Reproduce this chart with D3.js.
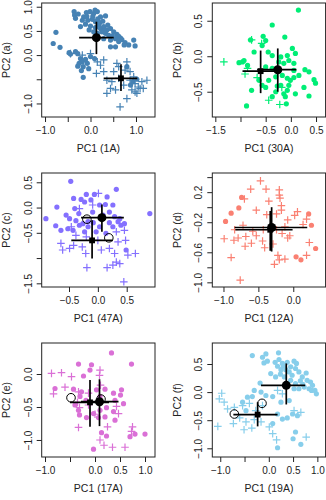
<!DOCTYPE html>
<html>
<head>
<meta charset="utf-8">
<script src="https://cdn.jsdelivr.net/npm/d3@7"></script>
<style>
  body { margin: 0; background: #fff; }
  svg { display: block; font-family: "Liberation Sans", Arial, sans-serif; }
</style>
</head>
<body>
<div id="chart"></div>
<script>
// ---- data: [PC1, PC2] per sample ----
const p1Dots = [[-0.36,0.90],[-0.35,0.83],[-0.33,0.76],[-0.09,0.88],[-0.01,0.90],[0.07,0.86],[0.15,0.90],[0.22,0.79],[0.33,0.81],[-0.15,0.79],[-0.18,0.72],[-0.06,0.72],[0.04,0.74],[0.11,0.69],[0.20,0.67],[-0.11,0.64],[-0.22,0.59],[0.00,0.60],[0.11,0.57],[0.22,0.55],[0.29,0.59],[0.36,0.52],[0.44,0.55],[0.25,0.48],[0.33,0.45],[0.40,0.41],[0.51,0.48],[0.58,0.43],[0.62,0.39],[0.55,0.34],[0.69,0.32],[0.76,0.26],[0.84,0.21],[0.74,0.21],[0.95,0.31],[0.98,0.19],[0.62,0.28],[0.44,0.31],[0.15,0.45],[0.07,0.48],[0.29,0.34],[0.44,0.17],[0.55,0.17],[-0.76,0.47],[-0.82,0.24],[-0.67,0.16],[-0.47,0.05],[-0.33,0.07],[-0.28,0.03],[-0.44,0.02],[-0.22,-0.07],[-0.18,-0.14],[-0.25,-0.17],[-0.28,-0.23],[-0.16,-0.24],[-0.20,-0.32],[-0.16,-0.46],[-0.07,-0.17],[-0.04,-0.28],[-0.11,-0.09],[0.00,-0.03],[0.09,-0.07],[0.80,-0.24],[0.93,-0.55],[1.02,-0.50],[0.88,-0.62],[0.05,0.80],[0.18,0.62],[0.27,0.70],[-0.03,0.52],[0.38,0.62],[-0.27,0.85],[0.10,0.93],[0.16,0.75],[0.30,0.50],[0.48,0.40],[-0.08,0.80],[0.66,0.35]];
const p1Crosses = [[-0.44,0.03],[-0.18,0.00],[0.00,0.03],[0.15,-0.14],[0.29,-0.10],[0.22,-0.21],[0.13,-0.38],[0.58,-0.17],[0.62,-0.24],[0.80,-0.14],[0.76,-0.31],[0.51,-0.34],[0.36,-0.52],[0.44,-0.69],[0.55,-0.72],[0.36,-0.79],[0.73,-0.62],[0.80,-0.90],[0.65,-1.07],[0.95,-0.45],[0.98,-0.59],[1.05,-0.66],[1.16,-0.69],[1.24,-0.52],[1.13,-0.55],[0.91,-0.72],[1.02,-0.79],[1.09,-0.69],[0.87,-0.52],[0.47,-0.55],[0.87,-0.34],[0.29,-0.34],[0.62,-0.48],[0.98,-0.76]];
// [marker, x, y, xLow, xHigh, yLow, yHigh]
const p1Means = [["square",0.67,-0.48,0.29,1.03,-0.74,-0.19],["circle",0.13,0.36,-0.25,0.51,0.02,0.69]];
const p1Rings = [];

const p2Dots = [[0.15,0.65],[-0.37,0.44],[-0.80,0.23],[-0.55,0.28],[-0.50,0.22],[-0.57,0.15],[-0.12,0.27],[-0.45,0.06],[-0.73,0.06],[0.03,0.11],[0.09,0.04],[-0.37,0.01],[-0.20,-0.01],[-0.07,0.01],[-0.24,-0.08],[-0.14,-0.10],[-0.04,-0.06],[0.06,-0.10],[-0.96,-0.08],[-1.03,-0.09],[-0.86,-0.13],[-0.93,-0.06],[-0.50,-0.15],[-0.37,-0.17],[-0.44,-0.34],[-0.30,-0.29],[-0.17,-0.27],[-0.07,-0.31],[-0.01,-0.34],[0.06,-0.30],[0.16,-0.27],[0.28,-0.19],[0.36,-0.22],[0.46,-0.33],[0.49,-0.38],[0.26,-0.44],[0.36,-0.56],[0.09,-0.53],[-0.07,-0.48],[-0.14,-0.53],[-0.11,-0.57],[-0.27,-0.42],[-0.30,-0.50],[-0.50,-0.44],[-0.78,-0.48],[-0.88,-0.70],[-0.37,-0.57],[-0.09,-0.67],[0.06,-0.20],[-0.04,-0.41],[-0.63,-0.34],[-0.57,-0.41],[-0.20,-0.41]];
const p2Crosses = [[-1.33,-0.08],[-0.78,0.23],[-0.58,0.18],[-0.86,-0.17],[-0.91,-0.25],[-0.67,-0.30],[-0.44,-0.62],[-0.22,-0.68],[-0.18,-0.44]];
const p2Means = [["square",-0.60,-0.21,-0.96,-0.27,-0.52,0.08],["circle",-0.26,-0.19,-0.67,0.11,-0.50,0.11]];
const p2Rings = [];

const p3Dots = [[-0.47,0.52],[0.32,0.36],[-0.20,0.26],[-0.42,0.18],[-0.29,0.16],[-0.23,0.11],[-0.12,0.15],[-0.71,0.01],[-0.90,-0.22],[-0.55,-0.15],[-0.49,-0.22],[-0.73,-0.36],[-0.64,-0.45],[-0.52,-0.42],[-0.43,-0.45],[-0.32,-0.35],[-0.26,-0.32],[-0.17,-0.28],[0.03,0.05],[0.13,0.06],[0.20,-0.09],[0.29,-0.18],[0.35,-0.28],[0.40,-0.35],[0.46,-0.32],[0.26,-0.38],[0.03,-0.38],[-0.03,-0.48],[0.14,-0.51],[0.49,-0.84],[0.90,-0.12],[-0.40,-0.02],[-0.33,-0.12],[-0.09,-0.09],[0.09,-0.15],[-0.17,-0.38],[-0.23,-0.48],[0.26,0.05],[0.16,0.21],[-0.06,0.26],[0.38,-0.22],[-0.08,-0.30],[0.20,-0.30],[-0.38,-0.26]];
const p3Crosses = [[0.01,0.28],[-0.32,-0.02],[-0.09,0.05],[-0.64,-0.71],[-0.49,-0.81],[-0.42,-0.75],[-0.27,-0.78],[-0.21,-0.91],[-0.19,-1.19],[0.00,-0.65],[0.06,-0.84],[0.20,-0.81],[0.29,-0.91],[0.32,-1.08],[0.16,-1.19],[0.26,-1.14],[0.38,-1.11],[0.52,-0.94],[0.65,-0.91],[0.48,-0.65],[0.46,-0.45],[0.32,-0.48],[0.35,-0.68],[0.45,-1.47],[-0.38,-0.55],[-0.20,-0.58],[-0.46,-0.38],[-0.61,-0.84]];
const p3Means = [["square",-0.10,-0.65,-0.46,0.26,-1.01,-0.25],["circle",0.07,-0.20,-0.29,0.45,-0.48,0.06]];
const p3Rings = [[-0.19,-0.23],[0.19,-0.60]];

const p4Dots = [[-0.74,0.13],[-0.78,-0.01],[-0.89,-0.08],[-0.97,-0.19],[0.22,-0.09],[0.26,-0.24],[0.32,-0.55],[0.04,-0.66],[0.11,-0.70]];
const p4Crosses = [[-0.47,0.35],[-0.61,0.24],[-0.39,0.24],[-0.20,0.23],[-0.70,0.11],[-0.35,0.08],[-0.19,0.12],[-0.17,0.02],[-0.53,-0.04],[-0.38,-0.10],[-0.24,-0.09],[-0.17,-0.04],[-0.08,-0.17],[0.02,-0.11],[0.06,-0.06],[0.14,-0.23],[0.19,-0.16],[-0.72,-0.24],[-0.84,-0.30],[-0.79,-0.41],[-0.99,-0.42],[-0.85,-0.44],[-0.68,-0.39],[-0.60,-0.48],[-0.69,-0.52],[-0.53,-0.38],[-0.44,-0.45],[-0.41,-0.54],[-0.29,-0.49],[-0.58,-0.32],[-0.43,-0.30],[-0.24,-0.30],[-0.16,-0.35],[-0.08,-0.41],[-0.05,-0.38],[-0.22,-0.64],[-0.20,-0.70],[-0.27,-0.76],[-0.12,-0.69],[0.19,-0.64],[0.23,-0.47],[-0.89,-0.67],[-0.76,-0.97],[-0.20,0.16],[-0.12,-0.26]];
const p4Means = [["square",-0.33,-0.30,-0.83,-0.01,-0.58,-0.05],["circle",-0.31,-0.27,-0.84,0.20,-0.59,0.00]];
const p4Rings = [];

const p5Dots = [[0.33,0.32],[-0.33,0.15],[-0.07,0.14],[-0.10,0.06],[-0.23,-0.03],[0.73,0.15],[-0.80,-0.22],[-0.43,-0.23],[-0.27,-0.27],[-0.30,-0.34],[-0.18,-0.40],[0.03,-0.24],[0.20,-0.23],[0.37,-0.29],[0.53,-0.24],[0.51,-0.32],[0.57,-0.45],[0.40,-0.40],[0.23,-0.51],[0.37,-0.57],[0.40,-0.70],[0.20,-0.65],[0.07,-0.66],[-0.03,-0.60],[-0.17,-0.66],[-0.31,-0.62],[-0.33,-0.55],[0.10,-0.55],[0.13,-0.89],[0.23,-0.94],[-0.03,-1.14],[0.70,-0.95],[0.80,-0.91],[1.00,-0.91],[-0.40,-0.47],[0.10,-0.34]];
const p5Crosses = [[-0.87,0.01],[-0.67,0.02],[-0.47,-0.04],[-0.83,-0.30],[-0.60,-0.20],[-0.33,-0.27],[0.10,0.06],[0.09,-0.02],[0.11,-0.17],[-0.35,-0.43],[-0.31,-0.51],[-0.13,-0.29],[-0.13,-0.47],[-0.33,-0.81],[0.00,-0.61],[0.47,-0.60],[0.25,-0.80],[0.10,-1.00],[0.18,-1.08],[0.35,-1.11],[0.60,-1.11],[0.75,-0.80],[0.73,-0.87],[0.43,-0.49]];
const p5Means = [["square",-0.10,-0.43,-0.50,0.28,-0.80,-0.09],["circle",0.09,-0.42,-0.28,0.47,-0.79,-0.08]];
const p5Rings = [[-0.48,-0.36],[0.12,-0.38]];

const p6Dots = [[-0.34,0.65],[-0.13,0.62],[-0.06,0.68],[0.20,0.70],[-0.10,0.52],[-0.03,0.55],[0.13,0.53],[0.21,0.58],[0.28,0.51],[0.38,0.53],[0.52,0.55],[0.57,0.51],[0.45,0.45],[0.55,0.42],[0.35,0.40],[0.25,0.40],[0.18,0.46],[0.62,0.36],[0.77,0.34],[0.69,0.27],[0.79,0.21],[0.86,0.18],[0.90,0.12],[0.95,0.03],[0.98,-0.03],[0.83,0.06],[0.73,0.09],[0.62,0.06],[0.55,0.15],[0.52,0.06],[0.45,0.21],[0.32,0.27],[0.14,0.27],[0.04,0.33],[-0.18,0.16],[-0.30,0.03],[-0.16,0.00],[-0.34,-0.08],[-0.44,-0.09],[-0.54,-0.18],[-0.06,-0.06],[0.08,-0.08],[0.25,-0.18],[0.42,-0.15],[0.49,-0.39],[0.59,-0.42],[0.38,-0.46],[0.28,-0.48],[0.18,-0.39],[0.55,-0.71],[0.50,-0.83],[0.66,-0.93],[0.18,-0.99],[0.08,-0.56],[-0.47,-0.33],[0.42,0.36],[0.30,0.46],[0.65,0.20],[0.88,0.03],[0.70,0.14],[0.48,0.30],[0.24,0.32]];
const p6Crosses = [[-0.97,-0.02],[-1.02,-0.12],[-0.92,-0.18],[-0.85,-0.30],[-1.05,-0.61],[-0.71,-0.27],[-0.54,-0.24],[-0.40,-0.20],[-0.60,-0.46],[-0.73,-0.56],[-0.51,-0.67],[-0.35,-0.64],[-0.47,-0.53],[-0.30,-0.49],[-0.16,-0.53],[0.01,-0.62],[0.08,-0.74],[0.16,-0.85],[0.18,0.03],[0.28,-0.03],[0.52,-0.33],[0.66,-0.36],[0.77,-0.80],[-0.13,-0.24],[-0.27,-0.33]];
const p6Means = [["square",-0.23,-0.40,-0.73,0.18,-0.61,-0.18],["circle",0.36,0.12,-0.16,0.75,-0.22,0.51]];
const p6Rings = [[-0.71,-0.39],[-0.14,-0.20]];

// ticks: [value, label] ("" = tick without label, as R drops overlapping ones)
const p1XTicks = [[-1,"\u22121.0"],[-0.5,""],[0,"0.0"],[0.5,""],[1,"1.0"]];
const p1YTicks = [[1,"1.0"],[0.5,"0.5"],[0,"0.0"],[-0.5,""],[-1,"\u22121.0"]];
const p2XTicks = [[-1.5,"\u22121.5"],[-1,""],[-0.5,"\u22120.5"],[0,"0.0"],[0.5,"0.5"]];
const p2YTicks = [[0.5,"0.5"],[0,"0.0"],[-0.5,"\u22120.5"]];
const p3XTicks = [[-0.5,"\u22120.5"],[0,"0.0"],[0.5,"0.5"]];
const p3YTicks = [[0.5,"0.5"],[0,"0.0"],[-0.5,"\u22120.5"],[-1,""],[-1.5,"\u22121.5"]];
const p4XTicks = [[-1,"\u22121.0"],[-0.5,"\u22120.5"],[0,"0.0"]];
const p4YTicks = [[0.4,""],[0.2,"0.2"],[0,""],[-0.2,"\u22120.2"],[-0.4,""],[-0.6,"\u22120.6"],[-0.8,""],[-1,"\u22121.0"]];
const p5XTicks = [[-1,"\u22121.0"],[-0.5,""],[0,"0.0"],[0.5,"0.5"],[1,"1.0"]];
const p5YTicks = [[0,"0.0"],[-0.5,"\u22120.5"],[-1,"\u22121.0"]];
const p6XTicks = [[-1,"\u22121.0"],[-0.5,""],[0,"0.0"],[0.5,"0.5"],[1,"1.0"]];
const p6YTicks = [[0.5,"0.5"],[0,"0.0"],[-0.5,"\u22120.5"],[-1,"\u22121.0"]];

const panelColors = ["#4682B4", "#00EE76", "#8470FF", "#FA8072", "#DA70D6", "#87CEEB"];
const xTitles = ["PC1 (1A)", "PC1 (30A)", "PC1 (47A)", "PC1 (12A)", "PC1 (17A)", "PC1 (19A)"];
const yTitles = ["PC2 (a)", "PC2 (b)", "PC2 (c)", "PC2 (d)", "PC2 (e)", "PC2 (f)"];

const panels = [
  { dots: p1Dots, crosses: p1Crosses, means: p1Means, rings: p1Rings, xTicks: p1XTicks, yTicks: p1YTicks, xDom: [-1.073, 1.418], yDom: [-1.28, 1.077] },
  { dots: p2Dots, crosses: p2Crosses, means: p2Means, rings: p2Rings, xTicks: p2XTicks, yTicks: p2YTicks, xDom: [-1.56, 0.69], yDom: [-0.856, 0.75] },
  { dots: p3Dots, crosses: p3Crosses, means: p3Means, rings: p3Rings, xTicks: p3XTicks, yTicks: p3YTicks, xDom: [-0.973, 0.99], yDom: [-1.573, 0.684] },
  { dots: p4Dots, crosses: p4Crosses, means: p4Means, rings: p4Rings, xTicks: p4XTicks, yTicks: p4YTicks, xDom: [-1.16, 0.463], yDom: [-1.062, 0.455] },
  { dots: p5Dots, crosses: p5Crosses, means: p5Means, rings: p5Rings, xTicks: p5XTicks, yTicks: p5YTicks, xDom: [-1.066, 1.2], yDom: [-1.258, 0.47] },
  { dots: p6Dots, crosses: p6Crosses, means: p6Means, rings: p6Rings, xTicks: p6XTicks, yTicks: p6YTicks, xDom: [-1.164, 1.17], yDom: [-1.155, 0.874] }
];

// ---- layout ----
const W = 326, H = 500;
const colLeft = [41.7, 212.3], rowTop = [3, 173, 343];
const boxW = 113.3, boxH = 114;
const ink = "#222";

const svg = d3.select("#chart").append("svg")
  .attr("width", W)
  .attr("height", H);

panels.forEach((p, i) => {
  const left = colLeft[i % 2], top = rowTop[Math.floor(i / 2)];
  const color = panelColors[i];

  const x = d3.scaleLinear().domain(p.xDom).range([0, boxW]);
  const y = d3.scaleLinear().domain(p.yDom).range([boxH, 0]);

  const g = svg.append("g").attr("transform", "translate(" + left + "," + top + ")");

  // axes (ticks on the box edge, R style)
  const xAxis = g.append("g")
    .attr("transform", "translate(0," + boxH + ")")
    .call(d3.axisBottom(x)
      .tickValues(p.xTicks.map(t => t[0]))
      .tickFormat((d, k) => p.xTicks[k][1])
      .tickSize(5).tickSizeOuter(0).tickPadding(5));
  xAxis.select(".domain").remove();
  xAxis.selectAll("line").attr("stroke", ink);
  xAxis.selectAll("text").attr("font-size", 10).attr("fill", ink)
    .attr("font-family", "Liberation Sans, Arial, sans-serif");

  const yAxis = g.append("g")
    .call(d3.axisLeft(y)
      .tickValues(p.yTicks.map(t => t[0]))
      .tickFormat((d, k) => p.yTicks[k][1])
      .tickSize(5).tickSizeOuter(0));
  yAxis.select(".domain").remove();
  yAxis.selectAll("line").attr("stroke", ink);
  yAxis.selectAll("text")
    .attr("transform", "rotate(-90)")
    .attr("x", 0).attr("y", -10).attr("dy", 0)
    .attr("text-anchor", "middle")
    .attr("font-size", 10).attr("fill", ink)
    .attr("font-family", "Liberation Sans, Arial, sans-serif");

  // axis titles
  g.append("text")
    .attr("x", boxW / 2).attr("y", boxH + 35)
    .attr("text-anchor", "middle")
    .attr("font-size", 10.5).attr("fill", ink)
    .text(xTitles[i]);
  g.append("text")
    .attr("transform", "translate(-31.5," + boxH / 2 + ") rotate(-90)")
    .attr("text-anchor", "middle")
    .attr("font-size", 10.5).attr("fill", ink)
    .text(yTitles[i]);

  // samples
  g.append("g").selectAll("circle")
    .data(p.dots).enter().append("circle")
    .attr("cx", d => x(d[0])).attr("cy", d => y(d[1]))
    .attr("r", 2.6)
    .attr("fill", color);

  g.append("g").selectAll("path")
    .data(p.crosses).enter().append("path")
    .attr("d", d => {
      const cx = x(d[0]), cy = y(d[1]), a = 3.8;
      return "M" + (cx - a) + "," + cy + "H" + (cx + a) + "M" + cx + "," + (cy - a) + "V" + (cy + a);
    })
    .attr("stroke", color)
    .attr("stroke-width", 1.2)
    .attr("fill", "none");

  // group means with spread bars
  const bars = g.append("g").attr("stroke", "#000").attr("stroke-width", 1.7);
  p.means.forEach(m => {
    bars.append("line")
      .attr("x1", x(m[3])).attr("x2", x(m[4]))
      .attr("y1", y(m[2])).attr("y2", y(m[2]));
    bars.append("line")
      .attr("x1", x(m[1])).attr("x2", x(m[1]))
      .attr("y1", y(m[5])).attr("y2", y(m[6]));
  });
  p.means.forEach(m => {
    if (m[0] === "circle") {
      g.append("circle")
        .attr("cx", x(m[1])).attr("cy", y(m[2]))
        .attr("r", 4.5).attr("fill", "#000");
    } else {
      const s = 5.8;
      g.append("rect")
        .attr("x", x(m[1]) - s / 2).attr("y", y(m[2]) - s / 2)
        .attr("width", s).attr("height", s).attr("fill", "#000");
    }
  });

  g.append("g").selectAll("circle")
    .data(p.rings).enter().append("circle")
    .attr("cx", d => x(d[0])).attr("cy", d => y(d[1]))
    .attr("r", 4.3)
    .attr("fill", "none")
    .attr("stroke", "#000")
    .attr("stroke-width", 1);

  // frame
  g.append("rect")
    .attr("width", boxW).attr("height", boxH)
    .attr("fill", "none")
    .attr("stroke", ink)
    .attr("stroke-width", 1);
});
</script>
</body>
</html>
